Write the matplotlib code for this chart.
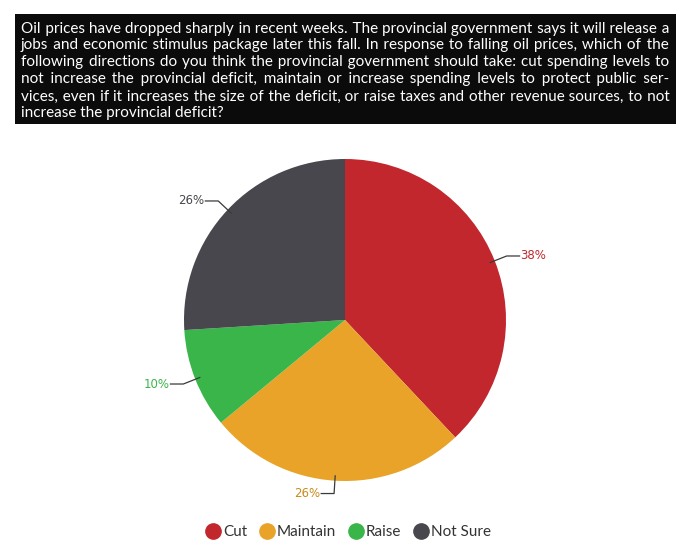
import numpy as np
import matplotlib
matplotlib.use("Agg")
import matplotlib.pyplot as plt
from matplotlib.lines import Line2D

# ---- data ----
categories = ["Cut", "Maintain", "Raise", "Not Sure"]
shares = [38, 26, 10, 26]
colors = ["#c1272d", "#e8a328", "#3ab54a", "#47474d"]
label_colors = ["#c1272d", "#c98a1c", "#3ab54a", "#47474d"]

question_lines = [
    "Oil prices have dropped sharply in recent weeks. The provincial government says it will release a",
    "jobs and economic stimulus package later this fall. In response to falling oil prices, which of the",
    "following directions do you think the provincial government should take: cut spending levels to",
    "not increase the provincial deficit, maintain or increase spending levels to protect public ser-",
    "vices, even if it increases the size of the deficit, or raise taxes and other revenue sources, to not",
    "increase the provincial deficit?",
]

W, H = 694, 550
fig = plt.figure(figsize=(W / 100, H / 100), dpi=100)
fig.patch.set_facecolor("white")
renderer = fig.canvas.get_renderer()

# ---- question box ----
box_l, box_r, box_t, box_b = 15, 676, 14, 124
fig.patches.append(plt.Rectangle((box_l / W, 1 - box_b / H), (box_r - box_l) / W,
                                 (box_b - box_t) / H, transform=fig.transFigure,
                                 facecolor="#0b0b0b", edgecolor="none", zorder=0))

title_font = dict(family=["Lato", "DejaVu Sans"], size=11.3, color="white")
x0, x1 = 21, 670
baselines = [32.5, 49.5, 66.5, 83.5, 100.5, 117.5]
HAIR = "\u200a"


def text_width(s):
    t = fig.text(0, 0, s, **title_font)
    wd = t.get_window_extent(renderer).width
    t.remove()
    return wd


# shrink the font until the widest justified line fits the box
widest = max(text_width(l) for l in question_lines[:-1])
if widest > (x1 - x0) - 4:
    title_font["size"] *= ((x1 - x0) - 4) / widest

hair_w = (text_width("a" + HAIR * 20 + "a") - text_width("aa")) / 20

# justify each line (except the last) by padding the word gaps with hair spaces
for i, line in enumerate(question_lines):
    words = line.split(" ")
    s = line
    if i < len(question_lines) - 1 and hair_w > 0.2:
        n_gaps = len(words) - 1
        extra = (x1 - x0) - text_width(line)
        k = max(0, int(np.floor(extra / hair_w)))
        pads = [k // n_gaps] * n_gaps
        rem = k - sum(pads)
        if rem:
            for j in np.linspace(0, n_gaps - 1, rem).round().astype(int):
                pads[j] += 1
        s = words[0]
        for w, p in zip(words[1:], pads):
            s += " " + HAIR * p + w
    fig.text(x0 / W, 1 - baselines[i] / H, s, ha="left", va="baseline", **title_font)

# ---- pie ----
cx, cy, r = 345, 320, 161
ax = fig.add_axes([(cx - r) / W, (H - cy - r) / H, 2 * r / W, 2 * r / H])
wedges, _ = ax.pie(shares, colors=colors, startangle=90, counterclock=False,
                   radius=1, wedgeprops=dict(linewidth=0))
ax.set_xlim(-1, 1)
ax.set_ylim(-1, 1)
ax.set_aspect("equal")
ax.axis("off")

for wdg, val, lc in zip(wedges, shares, label_colors):
    mid = np.deg2rad((wdg.theta1 + wdg.theta2) / 2)
    x, y = np.cos(mid), np.sin(mid)
    ex, ey = 1.08 * x, 1.08 * y
    side = 1 if x > 0 else -1
    tx = ex + side * 0.08
    ax.plot([0.97 * x, ex, tx], [0.97 * y, ey, ey], color="#3a3a3a",
            lw=0.9, clip_on=False)
    ax.text(tx + side * 0.005, ey, f"{val}%", ha="left" if side > 0 else "right",
            va="center", fontsize=8.5, color=lc, clip_on=False,
            family=["Liberation Sans Narrow", "DejaVu Sans"])

# ---- legend ----
handles = [Line2D([0], [0], marker="o", linestyle="none", markersize=11,
                  markerfacecolor=c, markeredgecolor=c) for c in colors]
leg = fig.legend(handles, categories, loc="center", bbox_to_anchor=(349 / W, 1 - 532 / H),
                 ncol=4, frameon=False, handletextpad=0.25, columnspacing=0.9,
                 handlelength=0.8, prop=dict(family="Lato", size=11))
for t in leg.get_texts():
    t.set_color("#333333")

fig.savefig("out.png", dpi=100, facecolor="white")
